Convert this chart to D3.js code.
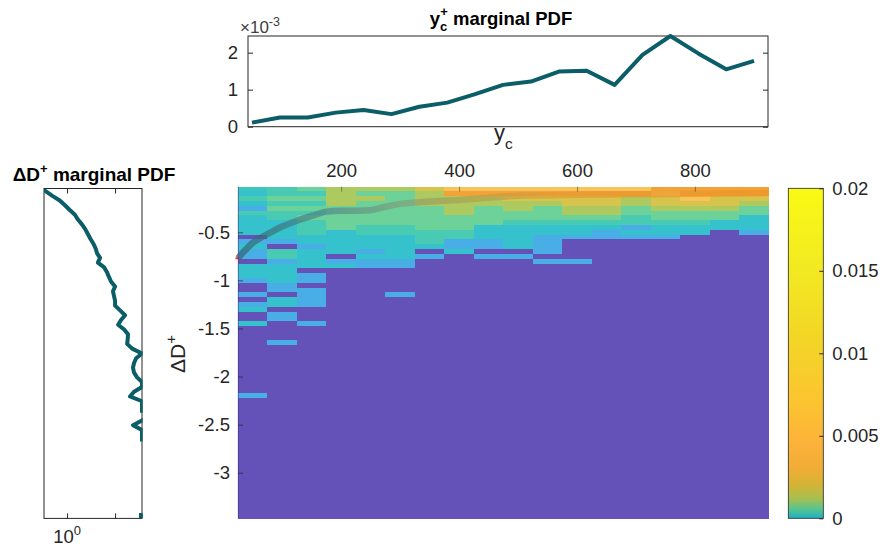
<!DOCTYPE html>
<html><head><meta charset="utf-8">
<script src="https://cdn.jsdelivr.net/npm/d3@7"></script>
<style>
body{margin:0;background:#fff}
svg{display:block}
text{font-family:"Liberation Sans",Arial,Helvetica,sans-serif}
</style>
</head><body>
<svg id="c" width="882" height="552"></svg>
<script>
// ---------------- DATA ----------------
// heatmap columns: y_c bin centres
const ycBins = [50,100,150,200,250,300,350,400,450,500,550,600,650,700,750,800,850,900];
// ΔD+ bin centres (rows, 0.05 wide)
const dRows = d3.range(1, 70).map(k => +(-0.05 * k).toFixed(2));
// joint PDF per column, from the top row downward (units of 1e-4); missing rows = 0
const pdfCol0  = [1.2,0.8,2,0.8,0.2,2,0.8,0.8,0.8,0.8,0,0.2,0.8,0.2,0.2,0,0.8,0.8,0.8,0.2,0,0,0.2,0,0.2,0.8,0,0,0.8];
const pdfCol1  = [2,2,4,2,4,2,2,0.8,0.8,0.8,0.8,0.2,0,2,2,0.2,0.8,0.8,0.8,0.8,0.2,0.2,0,0.8,0.8,0,0.2,0.2];
const pdfCol2  = [4,2,4,2,4,2,4,2,2,2,0.8,0.8,0.2,0.8,0.8,0.8,0.8,0,0.2,0.2,0,0.2,0.2,0.2,0.2,0,0,0,0.2];
const pdfCol3  = [8,8,8,8,4,4,4,4,4,0.8,0.8,0.8,0.8,0.8,0,0.2,0.8];
const pdfCol4  = [8,4,8,4,4,4,4,4,2,2,0.8,0.8,0.8,0.2,0.8,0.2,0.2];
const pdfCol5  = [8,4,4,4,4,4,4,4,2,2,0.8,0.8,0.8,0.8,0.8,0.2,0.2];
const pdfCol6  = [13,8,8,8,4,4,4,4,4,2,2,2,0.8,0,0.2];
const pdfCol7  = [22,35,8,8,8,8,4,4,4,2,2,0.2,0.2,0.8];
const pdfCol8  = [22,35,8,8,4,4,4,4,0.8,0.8,0.8,0.2,0.2,0,0.2];
const pdfCol9  = [22,35,13,8,8,4,4,2,0.8,0.8,0.8,0.8,0.8,0,0.2];
const pdfCol10 = [22,35,13,8,4,4,4,2,0.8,0.8,0.2,0.2,0.2,0.2,0,0.2];
const pdfCol11 = [22,35,13,13,8,8,4,2,0.8,0.8,0.2,0,0,0,0,0.2];
const pdfCol12 = [22,35,13,13,8,8,4,2,0.8,0.2,0.2];
const pdfCol13 = [22,35,8,8,4,4,2,2,0.2,0.8,0.2];
const pdfCol14 = [35,22,13,13,8,4,4,2,0.8,0.8,0.2];
const pdfCol15 = [35,35,22,13,8,4,4,2,0.8,0.8];
const pdfCol16 = [35,35,13,13,8,4,4,0.8,0.8];
const pdfCol17 = [35,35,13,8,4,4,0.8,0.8,0.8,0.2];
const heatColumns = [pdfCol0,pdfCol1,pdfCol2,pdfCol3,pdfCol4,pdfCol5,pdfCol6,pdfCol7,pdfCol8,
                     pdfCol9,pdfCol10,pdfCol11,pdfCol12,pdfCol13,pdfCol14,pdfCol15,pdfCol16,pdfCol17];
// isolated cells further down: column index, row number (1-based), value
const sparseCol = [0, 1, 5];
const sparseRow = [44, 33, 23];
const sparseVal = [0.2, 0.2, 0.2];

// heat colour levels (1e-4 units) and colours
const heatLevels = [0.2, 0.8, 2, 4, 8, 13, 22, 35, 50];
const heatColors = ['#4aaee6','#35c2cc','#48cbb2','#6dd19a','#acca60','#d6c44c','#f9c35a','#f3a236','#fcd840'];
const zeroColor = '#6452b9';

// colorbar
const cbValues = [0, 0.0006, 0.0012, 0.002, 0.003, 0.0045, 0.007, 0.011, 0.015, 0.02];
const cbColors = ['#1fb0c6','#5cc58a','#a8bf50','#d2b435','#f0ad36','#fcb23a','#fcc430','#f2d626','#f2e922','#f9fa14'];
const cbTicks = [0, 0.005, 0.01, 0.015, 0.02];
const cbTickLabels = ['0', '0.005', '0.01', '0.015', '0.02'];

// top marginal PDF of y_c+ (units 1e-3)
const ycMargX = [50,100,150,200,250,300,350,400,450,500,550,600,650,700,750,800,850,900,950];
const ycMarg  = [0.11,0.25,0.25,0.38,0.45,0.34,0.54,0.65,0.88,1.13,1.22,1.49,1.51,1.13,1.94,2.45,1.98,1.55,1.78];
const topYTicks = [0, 1, 2];

// left marginal PDF of ΔD+ per row (log axis); 0 = empty, 2.95 = axis maximum
const dMarg = [0.73,0.805,0.90,0.97,1.04,1.12,1.17,1.24,1.30,1.35,1.40,1.46,1.51,1.54,1.61,1.56,1.71,1.78,1.83,1.89,
               2.0,1.94,1.97,2.0,2.0,2.15,2.31,2.18,2.09,2.28,2.41,2.40,2.38,2.56,2.95,2.71,2.63,2.59,2.63,2.75,
               2.95,2.95,2.63,2.48,2.95,2.95,2.95,0,2.95,2.59,2.95,2.95,2.95,
               0,0,0,0,0,0,0,0,0,0,0,0,0,0,0,2.95];

// overlay (conditional mean) curve on the heatmap
const overlayYc = [25,50,75,100,125,150,175,200,225,250,275,300,350,400,450,500,600,700,800,925];
const overlayD  = [-0.77,-0.61,-0.52,-0.44,-0.38,-0.33,-0.285,-0.275,-0.275,-0.27,-0.235,-0.205,-0.18,-0.165,-0.14,-0.12,-0.11,-0.105,-0.1,-0.09];

const hxTicks = [200, 400, 600, 800];
const hyTicks = [-0.5, -1, -1.5, -2, -2.5, -3];

// ---------------- DRAW ----------------
const AX = '#262626';
const LINE = '#0b5d67';
const FONT = '"Liberation Sans", Arial, sans-serif';
const svg = d3.select('#c');
const defs = svg.append('defs');

// ===== Heatmap =====
const xH = d3.scaleLinear().domain([25, 925]).range([238, 768.6]);
const yH = d3.scaleLinear().domain([-0.025, -3.475]).range([186.6, 518.4]);
const heatScale = d3.scaleLog().domain(heatLevels).range(heatColors).clamp(true);
const colorOf = v => v > 0 ? heatScale(v) : zeroColor;

const cells = [];
heatColumns.forEach((col, i) => {
  dRows.forEach((d, r) => cells.push({i, r, v: col[r] || 0}));
});
sparseCol.forEach((c, j) => {
  const cell = cells.find(e => e.i === c && e.r === sparseRow[j] - 1);
  cell.v = sparseVal[j];
});

svg.append('g').selectAll('rect').data(cells).join('rect')
  .attr('x', d => xH(ycBins[d.i] - 25))
  .attr('width', d => xH(ycBins[d.i] + 25) - xH(ycBins[d.i] - 25) + 0.4)
  .attr('y', d => yH(dRows[d.r] + 0.025))
  .attr('height', d => yH(dRows[d.r] - 0.025) - yH(dRows[d.r] + 0.025) + 0.4)
  .attr('fill', d => colorOf(d.v))
  .attr('shape-rendering', 'crispEdges');

// overlay curve
const grad = defs.append('linearGradient').attr('id', 'ovg')
  .attr('gradientUnits', 'userSpaceOnUse')
  .attr('x1', xH(25)).attr('x2', xH(925)).attr('y1', 0).attr('y2', 0);
[[0,'#2f6670',0.7],[0.18,'#4f7f86',0.6],[0.3,'#7f9272',0.55],[0.45,'#b49a48',0.6],[0.6,'#e39a30',0.65],[1,'#ee9426',0.7]]
  .forEach(s => grad.append('stop').attr('offset', s[0]).attr('stop-color', s[1]).attr('stop-opacity', s[2]));
const ovPts = overlayYc.map((x, k) => [x, overlayD[k]]);
svg.append('path')
  .attr('d', d3.line().x(d => xH(d[0])).y(d => yH(d[1])).curve(d3.curveMonotoneX)(ovPts))
  .attr('fill', 'none').attr('stroke', 'url(#ovg)').attr('stroke-width', 6.5);
svg.append('line')
  .attr('x1', xH(overlayYc[0]) - 2.5).attr('x2', xH(overlayYc[0]) + 1)
  .attr('y1', yH(overlayD[0])).attr('y2', yH(overlayD[0]))
  .attr('stroke', '#e8303a').attr('stroke-width', 2);

svg.append('line').attr('x1', 238.3).attr('x2', 238.3).attr('y1', 186.6).attr('y2', 518.4)
  .attr('stroke', '#3b3580').attr('stroke-opacity', 0.6).attr('stroke-width', 1);

const gy = svg.append('g').attr('transform', 'translate(238,0)')
  .call(d3.axisLeft(yH).tickValues(hyTicks).tickSize(-5).tickPadding(8).tickFormat(d => String(d)));
gy.select('.domain').remove();
gy.selectAll('.tick line').attr('stroke', AX).attr('stroke-opacity', 0.7);
gy.selectAll('.tick text').attr('font-size', 18.5).attr('fill', AX).attr('font-family', FONT);

const gx = svg.append('g').attr('transform', 'translate(0,186.6)')
  .call(d3.axisTop(xH).tickValues(hxTicks).tickSize(-5).tickPadding(10));
gx.select('.domain').remove();
gx.selectAll('.tick line').attr('stroke', AX).attr('stroke-opacity', 0.45);
gx.selectAll('.tick text').attr('font-size', 18.5).attr('fill', AX).attr('font-family', FONT);

const yl = svg.append('text')
  .attr('transform', 'translate(185,354) rotate(-90)')
  .attr('text-anchor', 'middle').attr('font-size', 21).attr('fill', AX);
yl.append('tspan').text('ΔD');
yl.append('tspan').attr('font-size', 15).attr('dy', -9).text('+');

// ===== Colorbar =====
const yCB = d3.scaleLinear().domain([0, 0.02]).range([518.3, 188.3]);
const cbg = defs.append('linearGradient').attr('id', 'cbg')
  .attr('x1', 0).attr('x2', 0).attr('y1', 1).attr('y2', 0);
cbValues.forEach((v, k) => cbg.append('stop').attr('offset', v / 0.02).attr('stop-color', cbColors[k]));
svg.append('rect').attr('x', 788.3).attr('y', yCB(0.02)).attr('width', 35)
  .attr('height', yCB(0) - yCB(0.02)).attr('fill', 'url(#cbg)')
  .attr('stroke', AX).attr('stroke-width', 0.8);
const gcb = svg.append('g').attr('transform', 'translate(823.3,0)')
  .call(d3.axisRight(yCB).tickValues(cbTicks).tickSize(-4).tickPadding(9)
    .tickFormat((d, k) => cbTickLabels[k]));
gcb.select('.domain').remove();
gcb.selectAll('.tick line').attr('stroke', AX);
gcb.selectAll('.tick text').attr('font-size', 18.5).attr('fill', AX).attr('font-family', FONT);

// ===== Top marginal =====
const xT = d3.scaleLinear().domain([42.8, 975]).range([248, 768]);
const yT = d3.scaleLinear().domain([0, 2.45]).range([126.7, 36]);
svg.append('rect').attr('x', 248).attr('y', 36).attr('width', 520).attr('height', 90.7)
  .attr('fill', 'none').attr('stroke', AX).attr('stroke-width', 1);
const gtl = svg.append('g').attr('transform', 'translate(248,0)')
  .call(d3.axisLeft(yT).tickValues(topYTicks).tickSize(-5).tickPadding(10).tickFormat(d => String(d)));
gtl.select('.domain').remove();
gtl.selectAll('.tick line').attr('stroke', AX);
gtl.selectAll('.tick text').attr('font-size', 18.5).attr('fill', AX).attr('font-family', FONT);
const gtr = svg.append('g').attr('transform', 'translate(768,0)')
  .call(d3.axisRight(yT).tickValues(topYTicks).tickSize(-5).tickFormat(''));
gtr.select('.domain').remove();
gtr.selectAll('.tick line').attr('stroke', AX);
svg.append('path')
  .attr('d', d3.line().x((d, k) => xT(ycMargX[k])).y(d => yT(d))(ycMarg))
  .attr('fill', 'none').attr('stroke', LINE).attr('stroke-width', 4)
  .attr('stroke-linejoin', 'round').attr('stroke-linecap', 'butt');
const ex = svg.append('text').attr('x', 240).attr('y', 33).attr('font-size', 17).attr('fill', '#404040');
ex.append('tspan').text('×10');
ex.append('tspan').attr('font-size', 12.5).attr('dy', -7).text('-3');
const tt = svg.append('text').attr('x', 501).attr('y', 25).attr('text-anchor', 'middle')
  .attr('font-size', 18.5).attr('font-weight', 'bold').attr('fill', '#000');
tt.append('tspan').text('y');
tt.append('tspan').attr('font-size', 13).attr('dy', 6).text('c');
tt.append('tspan').attr('font-size', 13).attr('dx', -7).attr('dy', -15).text('+');
tt.append('tspan').attr('dy', 9).text(' marginal PDF');
const xl = svg.append('text').attr('x', 494).attr('y', 140).attr('font-size', 22).attr('fill', AX);
xl.append('tspan').text('y');
xl.append('tspan').attr('font-size', 15.5).attr('dy', 9).text('c');

// ===== Left marginal =====
const xL = d3.scaleLog().domain([0.717, 2.95]).range([44, 142]);
const yL = d3.scaleLinear().domain(yH.domain()).range([188.5, 518.4]);
svg.append('rect').attr('x', 44).attr('y', 188.5).attr('width', 98).attr('height', 518.4 - 188.5)
  .attr('fill', 'none').attr('stroke', AX).attr('stroke-width', 1);
defs.append('clipPath').attr('id', 'clipL').append('rect')
  .attr('x', 44).attr('y', 188.5).attr('width', 98.6).attr('height', 518.4 - 188.5);
const lTicks = [1, 2];
const glb = svg.append('g').attr('transform', 'translate(0,518.4)')
  .call(d3.axisBottom(xL).tickValues(lTicks).tickSize(-5).tickFormat(''));
glb.select('.domain').remove();
glb.selectAll('.tick line').attr('stroke', AX);
const glt = svg.append('g').attr('transform', 'translate(0,188.5)')
  .call(d3.axisTop(xL).tickValues(lTicks).tickSize(-5).tickFormat(''));
glt.select('.domain').remove();
glt.selectAll('.tick line').attr('stroke', AX);
const lab = svg.append('text').attr('x', xL(1)).attr('y', 543).attr('text-anchor', 'middle')
  .attr('font-size', 18.5).attr('fill', AX);
lab.append('tspan').text('10');
lab.append('tspan').attr('font-size', 13).attr('dy', -8).text('0');

const gL = svg.append('g').attr('clip-path', 'url(#clipL)');
gL.append('path')
  .attr('d', d3.line().defined(d => d > 0).x(d => xL(d)).y((d, k) => yL(dRows[k]))(dMarg))
  .attr('fill', 'none').attr('stroke', LINE).attr('stroke-width', 4)
  .attr('stroke-linejoin', 'round').attr('stroke-linecap', 'square');
// isolated points (no neighbours) drawn as small squares
const isolated = dMarg.map((v, k) => ({v, k}))
  .filter(d => d.v > 0 && !(dMarg[d.k - 1] > 0) && !(dMarg[d.k + 1] > 0));
gL.selectAll('rect.iso').data(isolated).join('rect').attr('class', 'iso')
  .attr('x', d => xL(d.v) - 3).attr('y', d => yL(dRows[d.k]) - 3)
  .attr('width', 6).attr('height', 5).attr('fill', LINE);

const lt = svg.append('text').attr('x', 94).attr('y', 181).attr('text-anchor', 'middle')
  .attr('font-size', 19).attr('font-weight', 'bold').attr('fill', '#000');
lt.append('tspan').text('ΔD');
lt.append('tspan').attr('font-size', 13).attr('dy', -8).text('+');
lt.append('tspan').attr('dy', 8).text(' marginal PDF');
</script>
</body></html>
